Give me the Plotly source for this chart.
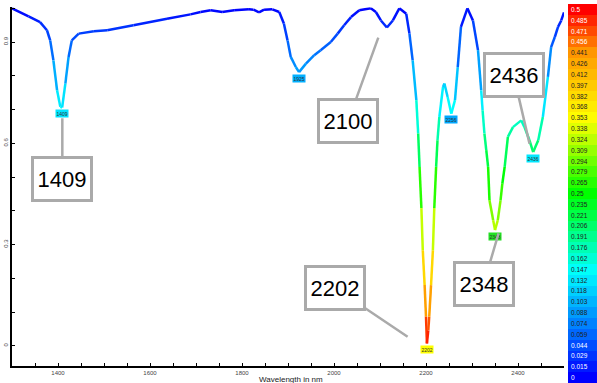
import plotly.graph_objects as go
from plotly.colors import sample_colorscale

# ---------------- data ----------------
wavelength = [1300, 1336, 1361, 1376, 1383, 1390, 1398, 1405, 1409, 1416, 1423, 1430, 1445,
              1478, 1507, 1564, 1637, 1688, 1710, 1732, 1757, 1783, 1815, 1825, 1837, 1848,
              1866, 1881, 1891, 1899, 1906, 1917, 1924, 1939, 1957, 1971, 1993, 2008, 2022,
              2037, 2055, 2080, 2091, 2102, 2115, 2128, 2142, 2157, 2164, 2171, 2179, 2183,
              2186, 2190, 2193, 2197, 2200, 2202, 2205, 2207, 2211, 2215, 2218, 2222, 2225,
              2229, 2237, 2240, 2247, 2255, 2263, 2269, 2276, 2290, 2302, 2313, 2320, 2323,
              2327, 2331, 2335, 2338, 2346, 2350, 2356, 2362, 2366, 2371, 2378, 2389, 2407,
              2414, 2425, 2433, 2444, 2454, 2465, 2472, 2480, 2487, 2494, 2500]
reflectance = [1.000, 0.976, 0.959, 0.935, 0.905, 0.846, 0.757, 0.708, 0.706, 0.777, 0.856, 0.905, 0.925,
               0.932, 0.935, 0.950, 0.969, 0.982, 0.989, 0.994, 0.989, 0.994, 0.997, 0.996, 0.988, 0.996,
               0.997, 0.989, 0.955, 0.905, 0.856, 0.826, 0.811, 0.836, 0.861, 0.876, 0.900, 0.925, 0.950,
               0.974, 0.994, 1.000, 0.989, 0.964, 0.943, 0.964, 1.000, 0.984, 0.925, 0.846, 0.728, 0.629,
               0.530, 0.408, 0.283, 0.180, 0.086, 0.007, 0.046, 0.086, 0.180, 0.283, 0.408, 0.530, 0.609,
               0.678, 0.767, 0.777, 0.737, 0.688, 0.728, 0.826, 0.945, 1.000, 0.964, 0.876, 0.757, 0.698,
               0.629, 0.580, 0.530, 0.431, 0.372, 0.343, 0.372, 0.431, 0.481, 0.530, 0.619, 0.648, 0.668,
               0.648, 0.609, 0.574, 0.609, 0.678, 0.797, 0.885, 0.915, 0.945, 0.964, 0.988]

peak_labels = ["1409", "1925", "2202", "2256", "2348", "2436"]
peak_wl = [1409, 1924, 2202, 2255, 2350, 2433]
peak_val = [0.706, 0.811, 0.007, 0.688, 0.343, 0.574]
peak_colors = ["#00e4ff", "#00b0ff", "#ffff00", "#00a8ff", "#22e022", "#00e8ff"]

callout_text = ["1409", "2100", "2202", "2348", "2436"]
callout_x = [1409.4, 2096.3, 2160, 2357.7, 2425]
callout_y = [0.674, 0.913, 0.027, 0.333, 0.599]

scale_labels = ["0", "0.015", "0.029", "0.044", "0.059", "0.074", "0.088", "0.103", "0.118",
                "0.132", "0.147", "0.162", "0.176", "0.191", "0.206", "0.221", "0.235", "0.25",
                "0.265", "0.279", "0.294", "0.309", "0.324", "0.338", "0.353", "0.368", "0.382",
                "0.397", "0.412", "0.426", "0.441", "0.456", "0.471", "0.485", "0.5"]

x_ticks = [1400, 1600, 1800, 2000, 2200, 2400]
y_ticks = [0, 0.3, 0.6, 0.9]

# ---------------- styling ----------------
rainbow = [[0.0, "#0000ff"], [0.29, "#00ffff"], [0.5, "#00ff00"], [0.7, "#ffff00"],
           [0.88, "#ff9900"], [1.0, "#ff0000"]]
callout_offsets = [(0, 61), (-30, 83), (-73, -49), (-15, 51), (-16, -69)]
FONT = "Liberation Sans, Arial, sans-serif"

fig = go.Figure()

# gradient-coloured spectrum (one segment per pair of read points)
for i in range(len(wavelength) - 1):
    depth = 1 - (reflectance[i] + reflectance[i + 1]) / 2
    depth = min(max(depth, 0), 1)
    col = sample_colorscale(rainbow, [depth])[0]
    fig.add_trace(go.Scatter(x=wavelength[i:i + 2], y=reflectance[i:i + 2], mode="lines",
                             line=dict(color=col, width=2.5), hoverinfo="skip",
                             showlegend=False))

# colour scale column
levels = [float(s) for s in scale_labels]
fig.add_trace(go.Heatmap(z=[[v] for v in levels], x=[0], y=list(range(len(levels))),
                         colorscale=rainbow, zmin=0, zmax=0.5, showscale=False,
                         xaxis="x2", yaxis="y2", hoverinfo="skip"))

annotations = []
for i, s in enumerate(scale_labels):
    v = levels[i]
    col = "white" if (v <= 0.045 or v >= 0.455) else "#222222"
    annotations.append(dict(xref="x2 domain", yref="y2", x=0.03, y=i, text=s,
                            showarrow=False, xanchor="left", yanchor="middle",
                            font=dict(size=6.5, color=col, family=FONT)))

# small peak tags
for t, x, y, c in zip(peak_labels, peak_wl, peak_val, peak_colors):
    annotations.append(dict(x=x, y=y, xref="x", yref="y", text=t, showarrow=False,
                            yshift=-6, bgcolor=c, borderpad=0.5,
                            font=dict(size=5, color="#333333", family=FONT)))

# big callouts
for t, x, y, (ax, ay) in zip(callout_text, callout_x, callout_y, callout_offsets):
    annotations.append(dict(x=x, y=y, xref="x", yref="y", text=t, showarrow=True,
                            ax=ax, ay=ay, arrowhead=0, arrowwidth=2.5, arrowcolor="#aaaaaa",
                            bgcolor="white", bordercolor="#aaaaaa", borderwidth=3,
                            width=56, height=40, borderpad=0,
                            font=dict(size=22, color="black", family=FONT)))

annotations.append(dict(xref="paper", yref="paper", x=0.477, y=0.008, text="Wavelength in nm",
                        showarrow=False, xanchor="center", yanchor="middle",
                        font=dict(size=8, color="#222222", family=FONT)))

fig.update_layout(
    width=597, height=383,
    margin=dict(l=12, r=0, t=4, b=0),
    paper_bgcolor="white", plot_bgcolor="white",
    showlegend=False,
    annotations=annotations,
    xaxis=dict(domain=[0, 0.9436], range=[1300, 2500], tickvals=x_ticks,
               ticks="inside", ticklen=3, tickcolor="black",
               minor=dict(dtick=50, tick0=1300, ticks="inside", ticklen=3, tickcolor="black"),
               showline=True, linecolor="black", linewidth=1.5, showgrid=False,
               zeroline=False, automargin=False,
               tickfont=dict(size=6, color="#444444", family=FONT)),
    yaxis=dict(domain=[0.0456, 0.9913], range=[-0.059, 1.003], tickvals=y_ticks,
               ticktext=["0", "0.3", "0.6", "0.9"], tickangle=-90,
               ticks="inside", ticklen=3, tickcolor="black",
               minor=dict(dtick=0.1, tick0=0, ticks="inside", ticklen=3, tickcolor="black"),
               showline=True, linecolor="black", linewidth=1.5, showgrid=False,
               zeroline=False, automargin=False,
               tickfont=dict(size=6, color="#444444", family=FONT)),
    xaxis2=dict(domain=[0.9504, 1.0], visible=False, fixedrange=True),
    yaxis2=dict(domain=[0, 1], range=[-0.5, len(levels) - 0.5], visible=False,
                anchor="x2", fixedrange=True),
)

fig.write_html("out.html")
